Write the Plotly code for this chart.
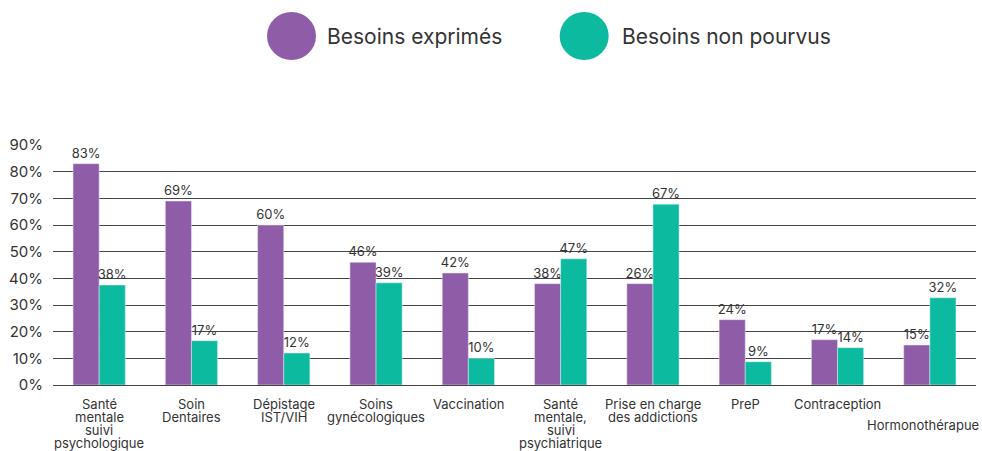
import plotly.graph_objects as go

categories = [
    "Santé<br>mentale<br>suivi<br>psychologique",
    "Soin<br>Dentaires",
    "Dépistage<br>IST/VIH",
    "Soins<br>gynécologiques",
    "Vaccination",
    "Santé<br>mentale,<br>suivi<br>psychiatrique",
    "Prise en charge<br>des addictions",
    "PreP",
    "Contraception",
    "Hormonothérapue",
]
# bar heights
exprimes = [83, 69, 60, 46, 42, 38, 38, 24.5, 17, 15]
non_pourvus = [37.5, 16.6, 12, 38.3, 10, 47.3, 67.8, 8.7, 14, 32.7]
# labels printed above the bars
exprimes_labels = ["83%", "69%", "60%", "46%", "42%", "38%", "26%", "24%", "17%", "15%"]
non_pourvus_labels = ["38%", "17%", "12%", "39%", "10%", "47%", "67%", "9%", "14%", "32%"]
series_names = ["Besoins exprimés", "Besoins non pourvus"]
tick_vals = [0, 10, 20, 30, 40, 50, 60, 70, 80, 90]
tick_text = ["0%", "10%", "20%", "30%", "40%", "50%", "60%", "70%", "80%", "90%"]

PURPLE = "#8f5ca8"
TEAL = "#0bba9f"
TXT = "#333333"
FONT = "Inter"

fig = go.Figure()
fig.add_trace(go.Bar(
    x=categories, y=exprimes, name=series_names[0], marker_color=PURPLE,
    text=exprimes_labels, textposition="outside", cliponaxis=False,
    constraintext="none", textfont=dict(size=13, color=TXT, family=FONT),
    showlegend=False,
))
fig.add_trace(go.Bar(
    x=categories, y=non_pourvus, name=series_names[1], marker_color=TEAL,
    text=non_pourvus_labels, textposition="outside", cliponaxis=False,
    constraintext="none", textfont=dict(size=13, color=TXT, family=FONT),
    showlegend=False,
))

fig.update_layout(
    width=982, height=451,
    margin=dict(l=53, r=6, t=145, b=66, autoexpand=False),
    paper_bgcolor="white", plot_bgcolor="white",
    barmode="group", bargap=0.434, bargroupgap=0,
    font=dict(family=FONT, color=TXT),
    showlegend=False,
)
fig.update_yaxes(
    range=[0, 90], tickvals=tick_vals, ticktext=tick_text, automargin=False,
    showgrid=True, gridcolor="#444444", gridwidth=1,
    zeroline=True, zerolinecolor="#444444", zerolinewidth=1,
    showline=False, ticks="", ticklabelstandoff=9,
    tickfont=dict(size=15, color=TXT, family=FONT),
)
fig.update_xaxes(
    range=[-0.5, len(categories) - 0.5],
    showgrid=False, showline=False, ticks="", automargin=False,
    showticklabels=False,
)

# category labels, one text per line for a tight line spacing
last = categories[-1]
for cat in categories:
    lines = cat.split("<br>")
    for i, line in enumerate(lines):
        if cat == last:
            # the last label sits lower and flush with the right edge
            fig.add_annotation(text=line, x=1, y=0, xref="paper", yref="y",
                               yanchor="middle", xanchor="right", showarrow=False,
                               xshift=5, yshift=-40,
                               font=dict(size=13, color=TXT, family=FONT))
            continue
        fig.add_annotation(text=line, x=cat, y=0, xref="x", yref="y",
                           yanchor="middle", xanchor="center", showarrow=False,
                           yshift=-(19 + 13.1 * i),
                           font=dict(size=13, color=TXT, family=FONT))

# custom legend with large circles
legend_items = [(series_names[0], PURPLE, 0.2584, 0.2942),
                (series_names[1], TEAL, 0.5755, 0.6138)]
for name, col, cx, tx in legend_items:
    fig.add_shape(type="circle", xref="paper", yref="paper",
                  xsizemode="pixel", ysizemode="pixel",
                  xanchor=cx, yanchor=1.454,
                  x0=-24.5, x1=24.5, y0=-24, y1=24,
                  fillcolor=col, line=dict(width=0))
    fig.add_annotation(text=name, xref="paper", yref="paper", x=tx, y=1.454,
                       xanchor="left", yanchor="middle", showarrow=False,
                       font=dict(size=21, color=TXT, family=FONT))

fig.write_html("out.html", config={"displayModeBar": False},
               post_script="document.body.style.margin='0';")
